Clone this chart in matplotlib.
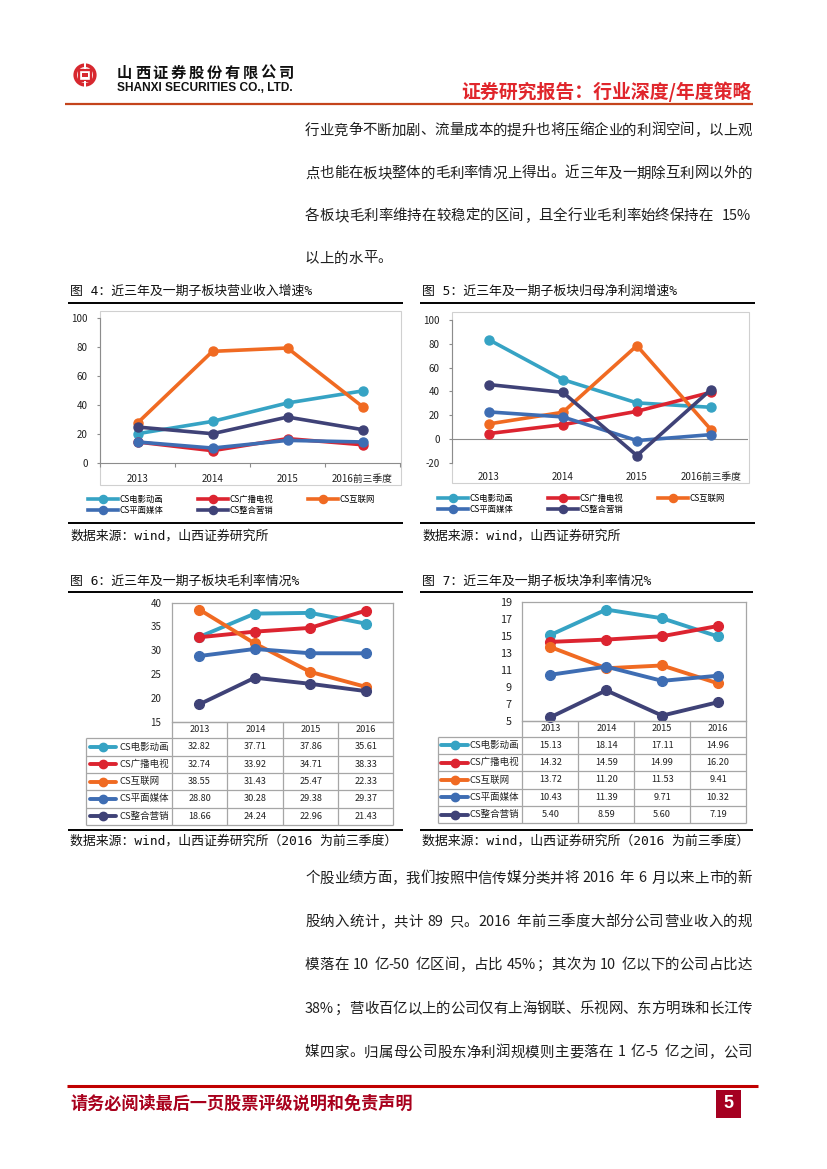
import re
import matplotlib
matplotlib.use('Agg')
import matplotlib.pyplot as plt
from matplotlib.patches import Rectangle, Circle

W, H = 827, 1169
plt.rcParams['font.family'] = ['Noto Sans CJK SC', 'DejaVu Sans']
plt.rcParams['axes.unicode_minus'] = False

# ---------------- data ----------------
series_names = ['CS电影动画', 'CS广播电视', 'CS互联网', 'CS平面媒体', 'CS整合营销']
series_colors = ['#36A3C4', '#DC2430', '#F06A22', '#3E6DB3', '#3F4277']

cats_growth = ['2013', '2014', '2015', '2016前三季度']
cats_margin = ['2013', '2014', '2015', '2016']

# 图4 营业收入增速 %
rev_film = [20.2, 28.7, 41.4, 49.7]
rev_tv = [14.5, 8.5, 16.8, 12.6]
rev_net = [27.6, 77.0, 79.3, 38.9]
rev_print = [14.5, 10.3, 15.6, 14.5]
rev_mkt = [24.8, 20.2, 31.7, 23.0]

# 图5 归母净利润增速 %
np_film = [83.5, 49.9, 30.3, 26.6]
np_tv = [4.5, 12.0, 23.2, 39.2]
np_net = [12.6, 22.4, 78.4, 7.8]
np_print = [22.7, 18.5, -1.4, 3.6]
np_mkt = [45.7, 39.2, -14.0, 41.5]

# 图6 毛利率 %
gm_film = [32.82, 37.71, 37.86, 35.61]
gm_tv = [32.74, 33.92, 34.71, 38.33]
gm_net = [38.55, 31.43, 25.47, 22.33]
gm_print = [28.80, 30.28, 29.38, 29.37]
gm_mkt = [18.66, 24.24, 22.96, 21.43]

# 图7 净利率 %
nm_film = [15.13, 18.14, 17.11, 14.96]
nm_tv = [14.32, 14.59, 14.99, 16.20]
nm_net = [13.72, 11.20, 11.53, 9.41]
nm_print = [10.43, 11.39, 9.71, 10.32]
nm_mkt = [5.40, 8.59, 5.60, 7.19]

growth_ticks_4 = [0, 20, 40, 60, 80, 100]
growth_ticks_5 = [-20, 0, 20, 40, 60, 80, 100]
gm_ticks = [15, 20, 25, 30, 35, 40]
nm_ticks = [5, 7, 9, 11, 13, 15, 17, 19]

para1 = ['行业竞争不断加剧、流量成本的提升也将压缩企业的利润空间，以上观',
         '点也能在板块整体的毛利率情况上得出。近三年及一期除互利网以外的',
         '各板块毛利率维持在较稳定的区间，且全行业毛利率始终保持在  15%',
         '以上的水平。']
para2 = ['个股业绩方面，我们按照中信传媒分类并将 2016 年 6 月以来上市的新',
         '股纳入统计，共计 89 只。2016 年前三季度大部分公司营业收入的规',
         '模落在 10 亿-50 亿区间，占比 45%；其次为 10 亿以下的公司占比达',
         '38%；营收百亿以上的公司仅有上海钢联、乐视网、东方明珠和长江传',
         '媒四家。归属母公司股东净利润规模则主要落在 1 亿-5 亿之间，公司']

# ---------------- figure ----------------
fig = plt.figure(figsize=(W / 100, H / 100), dpi=100)
bg = fig.add_axes([0, 0, 1, 1])
bg.set_xlim(0, W)
bg.set_ylim(H, 0)
bg.axis('off')
R = fig.canvas.get_renderer()

RED = '#D7282F'
TXT = '#1E1E1E'
GREY = '#A6A6A6'
MONO = ['DejaVu Sans Mono', 'Noto Sans CJK SC']


def frect(x0, y0, x1, y1):
    return [x0 / W, 1 - y1 / H, (x1 - x0) / W, (y1 - y0) / H]


def hline(x0, x1, y, color='black', lw=1.0):
    bg.plot([x0, x1], [y, y], color=color, lw=lw, solid_capstyle='butt')


def vline(x, y0, y1, color='black', lw=1.0):
    bg.plot([x, x], [y0, y1], color=color, lw=lw, solid_capstyle='butt')


# ---------------- header ----------------
cx, cy = 85, 75
bg.add_patch(Circle((cx, cy), 9.8, fill=False, ec=RED, lw=2.6))
bg.add_patch(Rectangle((cx - 6, cy - 5.5), 12, 11, fill=False, ec=RED, lw=1.7))
bg.add_patch(Rectangle((cx - 2.6, cy - 2.2), 5.2, 4.4, fill=True, fc=RED, ec='none'))
bg.add_patch(Rectangle((cx - 1.2, cy - 13), 2.4, 7, fc='white', ec='none'))
bg.add_patch(Rectangle((cx - 1.2, cy + 6), 2.4, 7, fc='white', ec='none'))

company = '山西证券股份有限公司'
for i, ch in enumerate(company):
    bg.text(117 + 18 * i + 7.5, 73, ch, fontsize=11, fontweight='bold', color='#111111',
            ha='center', va='center')
bg.text(117, 88, 'SHANXI SECURITIES CO., LTD.', fontsize=8.6, fontweight='bold',
        family=['Liberation Sans', 'DejaVu Sans'], color='#111111', ha='left', va='center')
bg.text(752, 92, '证券研究报告：行业深度/年度策略', fontsize=13.6, fontweight='bold',
        color='#E0262C', ha='right', va='center')
hline(65, 753, 103.5, color='#C4441C', lw=1.6)


# ---------------- justified paragraphs ----------------
def put_line(line, x0, x1, yc, fs=10.4, justify=True):
    em = fs * 100 / 72
    toks = re.findall(r'[A-Za-z0-9%.\-]+| |[^ A-Za-z0-9%.\-]', line)
    widths = []
    for t in toks:
        if t == ' ':
            widths.append(0.28 * em)
        elif re.match(r'[A-Za-z0-9%.\-]', t):
            tt = bg.text(0, 0, t, fontsize=fs)
            widths.append(tt.get_window_extent(renderer=R).width + 0.08 * em)
            tt.remove()
        else:
            widths.append(em)
    gap = 0
    if justify and len(toks) > 1:
        gap = (x1 - x0 - sum(widths)) / (len(toks) - 1)
    x = x0
    base = yc + 0.38 * em
    for t, w in zip(toks, widths):
        if t != ' ':
            bg.text(x, base, t, fontsize=fs, color=TXT, ha='left', va='baseline')
        x += w + gap


p1_y = [129, 172, 214.5, 257]
for i, (ln, y) in enumerate(zip(para1, p1_y)):
    put_line(ln, 305, 752, y, justify=(i < len(para1) - 1))

p2_y = [877, 920.5, 963.5, 1007.5, 1051]
for ln, y in zip(para2, p2_y):
    put_line(ln, 305, 752, y, justify=True)


# ---------------- caption / source helpers ----------------
def caption(x, y, s, x0, x1, ly):
    bg.text(x, y, s, fontsize=9.3, color='#111111', ha='left', va='center', family=MONO)
    hline(x0, x1, ly, lw=1.4)


def source(x, y, s, x0, x1, ly):
    hline(x0, x1, ly, lw=1.4)
    bg.text(x, y, s, fontsize=9.3, color='#111111', ha='left', va='center', family=MONO)


caption(70, 291.5, '图 4：近三年及一期子板块营业收入增速%', 68, 403, 302.7)
caption(422, 291.5, '图 5：近三年及一期子板块归母净利润增速%', 420, 755, 302.7)
source(70, 536.5, '数据来源：wind，山西证券研究所', 68, 403, 523.3)
source(422, 536.5, '数据来源：wind，山西证券研究所', 420, 755, 523.3)

caption(70, 581.5, '图 6：近三年及一期子板块毛利率情况%', 68, 403, 591.7)
caption(422, 581.5, '图 7：近三年及一期子板块净利率情况%', 420, 753, 591.7)
source(70, 841.5, '数据来源：wind，山西证券研究所（2016 为前三季度）', 68, 403, 830)
source(422, 841.5, '数据来源：wind，山西证券研究所（2016 为前三季度）', 420, 753, 830)


# ---------------- growth charts (图4, 图5) ----------------
def growth_chart(box, plot, series, cats, ylim, yticks, zero_line, ypad, xpad, leg_x, leg_y):
    bx0, by0, bx1, by1 = box
    bg.add_patch(Rectangle((bx0, by0), bx1 - bx0, by1 - by0, fill=False, ec='#D0D0D0', lw=0.8))
    ax = fig.add_axes(frect(*plot))
    ax.set_facecolor('none')
    xs = list(range(len(cats)))
    lines = []
    for name, col, vals in zip(series_names, series_colors, series):
        l, = ax.plot(xs, vals, color=col, lw=2.6, marker='o', ms=6.5, label=name,
                     clip_on=False, solid_joinstyle='round')
        lines.append(l)
    ax.set_xlim(-0.5, len(cats) - 0.5)
    ax.set_ylim(*ylim)
    ax.set_yticks(yticks)
    ax.set_yticklabels([str(v) for v in yticks])
    ax.set_xticks(xs)
    ax.set_xticklabels(cats)
    ax.set_xticks([i - 0.5 for i in range(len(cats) + 1)], minor=True)
    for s in ['top', 'right']:
        ax.spines[s].set_visible(False)
    ax.spines['left'].set_color('#8C8C8C')
    ax.spines['left'].set_linewidth(0.8)
    if zero_line:
        ax.spines['bottom'].set_visible(False)
        ax.axhline(0, color='#8C8C8C', lw=0.8, zorder=0.5)
        ax.tick_params(axis='x', which='minor', length=0)
    else:
        ax.spines['bottom'].set_color('#8C8C8C')
        ax.spines['bottom'].set_linewidth(0.8)
        ax.tick_params(axis='x', which='minor', length=3, color='#8C8C8C', width=0.8)
    ax.tick_params(axis='x', which='major', length=0, pad=xpad, labelsize=7, labelcolor='#222222')
    ax.tick_params(axis='y', length=2.2, width=0.8, color='#8C8C8C', pad=ypad, labelsize=7,
                   labelcolor='#222222')
    fs = 6.0
    em = fs * 100 / 72
    order = [0, 3, 1, 4, 2]
    fig.legend([lines[i] for i in order], [series_names[i] for i in order], ncol=3,
               loc='center left', bbox_to_anchor=(leg_x / W, 1 - leg_y / H), frameon=False,
               fontsize=fs, handlelength=30 / em, handletextpad=0.15, columnspacing=4.2,
               labelspacing=0.28, borderpad=0, borderaxespad=0, markerscale=0.9)
    return ax


growth_chart((100, 311, 401, 485), (100, 318, 400, 463),
             [rev_film, rev_tv, rev_net, rev_print, rev_mkt], cats_growth,
             (0, 100), growth_ticks_4, False, 6.5, 8, 88, 505)
growth_chart((452, 312, 749, 483), (451.7, 320, 748, 462.7),
             [np_film, np_tv, np_net, np_print, np_mkt], cats_growth,
             (-20, 100), growth_ticks_5, True, 6.3, 7, 438, 504)


# ---------------- margin charts with data table (图6, 图7) ----------------
def margin_chart(x_tbl, cols, y_top, y_hdr, hdr_h, row_h, series, cats, ylim, yticks,
                 ylab_fs, ypad, key_x0, key_x1, name_x):
    ax = fig.add_axes(frect(cols[0], y_top, cols[-1], y_hdr))
    ax.set_facecolor('none')
    xs = list(range(len(cats)))
    for name, col, vals in zip(series_names, series_colors, series):
        ax.plot(xs, vals, color=col, lw=2.8, marker='o', ms=7, clip_on=False,
                solid_joinstyle='round')
    ax.set_xlim(-0.5, len(cats) - 0.5)
    ax.set_ylim(*ylim)
    ax.set_yticks(yticks)
    ax.set_yticklabels([str(v) for v in yticks])
    ax.set_xticks([])
    for s in ax.spines.values():
        s.set_color(GREY)
        s.set_linewidth(0.9)
    ax.tick_params(axis='y', length=0, pad=ypad, labelsize=ylab_fs, labelcolor='#222222')

    # table grid
    y_body = y_hdr + hdr_h
    y_end = y_body + row_h * len(series)
    hline(cols[0], cols[-1], y_hdr, color=GREY, lw=0.9)
    for i in range(len(series) + 1):
        hline(x_tbl, cols[-1], y_body + i * row_h, color=GREY, lw=0.9)
    for c in cols:
        vline(c, y_hdr, y_end, color=GREY, lw=0.9)
    vline(x_tbl, y_body, y_end, color=GREY, lw=0.9)
    centers = [(cols[i] + cols[i + 1]) / 2 for i in range(len(cats))]
    for xc, c in zip(centers, cats):
        bg.text(xc, y_hdr + hdr_h / 2, c, fontsize=6.6, color='#222222', ha='center', va='center')
    for r, (name, col, vals) in enumerate(zip(series_names, series_colors, series)):
        yc = y_body + (r + 0.5) * row_h
        bg.plot([key_x0, key_x1], [yc, yc], color=col, lw=2.8, solid_capstyle='round')
        bg.plot([(key_x0 + key_x1) / 2], [yc], 'o', color=col, ms=6)
        bg.text(name_x, yc, name, fontsize=6.8, color='#222222', ha='left', va='center')
        for xc, v in zip(centers, vals):
            bg.text(xc, yc, f'{v:.2f}', fontsize=6.6, color='#222222', ha='center', va='center')


margin_chart(86, [171.7, 227.3, 283.3, 338.3, 393.3], 602.7, 721.7, 16.6, 17.34,
             [gm_film, gm_tv, gm_net, gm_print, gm_mkt], cats_margin, (15, 40), gm_ticks,
             7, 7.5, 90, 116, 119)
margin_chart(437.7, [522.3, 578.3, 634.3, 690, 746], 602.3, 720.7, 16, 17.32,
             [nm_film, nm_tv, nm_net, nm_print, nm_mkt], cats_margin, (5, 19), nm_ticks,
             7.8, 7.5, 441, 468, 470)

# ---------------- footer ----------------
hline(67, 758, 1085.5, color='#C00000', lw=2.2)
bg.text(70, 1103.5, '请务必阅读最后一页股票评级说明和免责声明', fontsize=12.3, fontweight='bold',
        color='#A8001C', ha='left', va='center')
bg.add_patch(Rectangle((716, 1090), 25, 28, fc='#A50021', ec='none'))
bg.text(728.5, 1104, '5', fontsize=13, fontweight='bold', color='white', ha='center', va='center',
        family=['Liberation Sans Narrow', 'Liberation Sans', 'DejaVu Sans'])

fig.savefig('out.png', dpi=100)
